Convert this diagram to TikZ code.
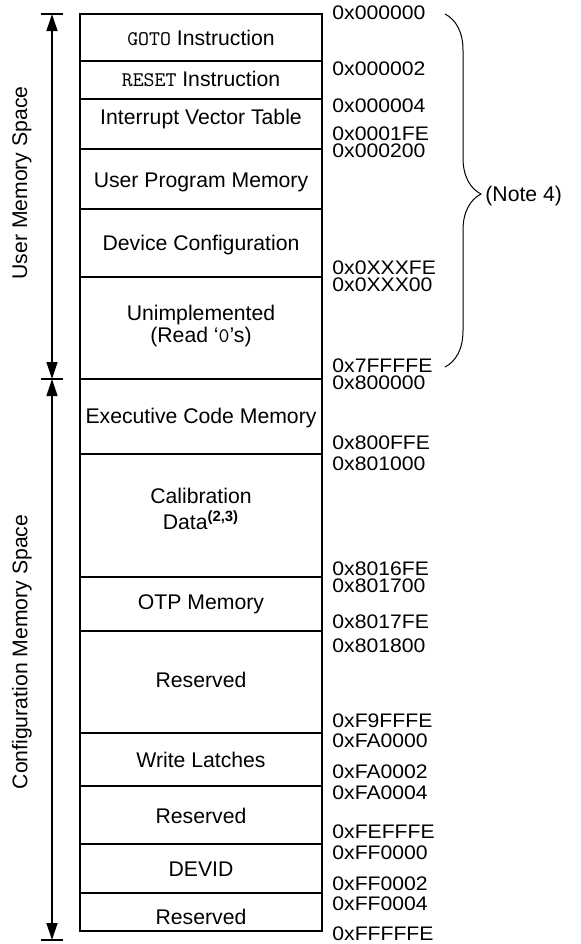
\documentclass[tikz,border=0pt]{standalone}
\usepackage{fontspec}
\setmainfont{Liberation Sans}
\newfontfamily\addrfont{Liberation Sans}[FakeStretch=1.08]
\usetikzlibrary{arrows.meta,decorations.pathreplacing}

\newcommand{\mono}[1]{{\fontsize{10.4}{11}\selectfont\ttfamily #1}}

\tikzset{
  blk/.style={line width=1pt},
  lbl/.style={font=\fontsize{10.6}{11}\selectfont, align=center, anchor=base, inner sep=0pt},
  addr/.style={font=\addrfont\fontsize{9.8}{11}\selectfont, anchor=base west, inner sep=0pt},
  span/.style={line width=0.65pt, {Triangle[length=8.5pt,width=5.5pt]}-{Triangle[length=8.5pt,width=5.5pt]}},
}

\begin{document}
\begin{tikzpicture}[x=0.5pt,y=-0.5pt]
            \useasboundingbox (0,0) rectangle (580,944);
            % memory blocks
            \draw [blk] (80,14) rectangle (322,931);
            \foreach \y in {61,99,149,209,277,379,454,577,631,733,786,844,893}
                \draw [blk] (80,\y) -- (322,\y);
            \node [lbl] (gotoi) at (201,45) {\mono{GOTO} Instruction};
            \node [lbl] (reseti) at (201,86) {\mono{RESET} Instruction};
            \node [lbl] (ivt) at (201,124) {Interrupt Vector Table};
            \node [lbl] (upm) at (201,187) {User Program Memory};
            \node [lbl] (devcfg) at (201,250) {Device Configuration};
            \node [lbl] (unimpl) at (201,342) {Unimplemented\\(Read `\mono{0}'s)};
            \node [lbl] (exec) at (201,423) {Executive Code Memory};
            \node [lbl] (calib) at (201,529) {Calibration\\[2pt]Data\textsuperscript{\textbf{(2,3)}}};
            \node [lbl] (otp) at (201,609) {OTP Memory};
            \node [lbl] (resa) at (201,687) {Reserved};
            \node [lbl] (wlatch) at (201,767) {Write Latches};
            \node [lbl] (resb) at (201,823) {Reserved};
            \node [lbl] (devid) at (201,876) {DEVID};
            \node [lbl] (resc) at (201,924) {Reserved};
            % addresses
            \node [addr] (a0) at (332,19) {0x000000};
            \node [addr] (a1) at (332,75) {0x000002};
            \node [addr] (a2) at (332,112) {0x000004};
            \node [addr] (a3) at (332,140) {0x0001FE};
            \node [addr] (a4) at (332,157) {0x000200};
            \node [addr] (a5) at (332,274) {0x0XXXFE};
            \node [addr] (a6) at (332,291) {0x0XXX00};
            \node [addr] (a7) at (332,372) {0x7FFFFE};
            \node [addr] (a8) at (332,389) {0x800000};
            \node [addr] (a9) at (332,449) {0x800FFE};
            \node [addr] (a10) at (332,470) {0x801000};
            \node [addr] (a11) at (332,575) {0x8016FE};
            \node [addr] (a12) at (332,592) {0x801700};
            \node [addr] (a13) at (332,628) {0x8017FE};
            \node [addr] (a14) at (332,652) {0x801800};
            \node [addr] (a15) at (332,727) {0xF9FFFE};
            \node [addr] (a16) at (332,747) {0xFA0000};
            \node [addr] (a17) at (332,778) {0xFA0002};
            \node [addr] (a18) at (332,799) {0xFA0004};
            \node [addr] (a19) at (332,838) {0xFEFFFE};
            \node [addr] (a20) at (332,859) {0xFF0000};
            \node [addr] (a21) at (332,890) {0xFF0002};
            \node [addr] (a22) at (332,910) {0xFF0004};
            \node [addr] (a23) at (332,940) {0xFFFFFE};
            % brace
            \coordinate (bt) at (445,14);
            \coordinate (bb) at (445,367);
            \draw [line width=0.5pt, decorate, decoration={brace, amplitude=18pt, aspect=0.51}] (bt) -- (bb);
            \node [font=\fontsize{10.6}{11}\selectfont, anchor=west, inner sep=0pt] (note) at (485,196) {(Note 4)};
            % spaces
            \coordinate (ut) at (52,14);
            \coordinate (um) at (52,379);
            \coordinate (cb) at (52,940);
            \draw [line width=0.65pt] (41,14) -- (63,14);
            \draw [line width=0.65pt] (41,379) -- (63,379);
            \draw [line width=0.65pt] (41,940) -- (63,940);
            \draw [span] (ut) -- (um);
            \draw [span] (um) -- (cb);
            \node [font=\fontsize{10.6}{11}\selectfont, rotate=90] (userlbl) at (22,183) {User Memory Space};
            \node [font=\fontsize{10.6}{11}\selectfont, rotate=90] (cfglbl) at (22,652) {Configuration Memory Space};
        \end{tikzpicture}
\end{document}
